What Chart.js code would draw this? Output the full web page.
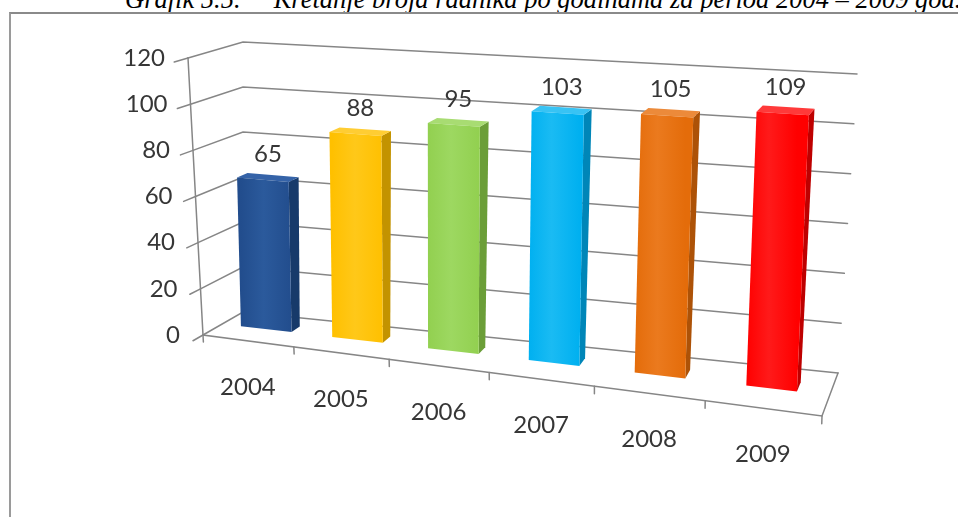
<!DOCTYPE html>
<html><head><meta charset="utf-8">
<script src="https://cdn.jsdelivr.net/npm/chart.js@4.4.1/dist/chart.umd.min.js"></script>
<style>
html,body{margin:0;padding:0;background:#fff;overflow:hidden;width:958px;height:517px;}
#title{position:absolute;left:125px;top:-16px;font:italic 26.5px "Liberation Serif","DejaVu Serif",serif;white-space:nowrap;color:#000;}
#frame{position:absolute;left:9px;top:12px;width:960px;height:520px;border-left:2px solid #9a9a9a;border-top:2px solid #8a8a8a;}
#wrap{position:absolute;left:0;top:0;width:958px;height:517px;}
</style></head><body>
<div id="title">Grafik 5.5.&nbsp;&nbsp;&nbsp;&nbsp; Kretanje broja radnika po godinama za period 2004 – 2009 god.</div>
<div id="frame"></div>
<div id="wrap"><canvas id="c" width="958" height="517"></canvas></div>
<script>
const categories = ['2004','2005','2006','2007','2008','2009'];
const values = [65, 88, 95, 103, 105, 109];
const yTicks = [0, 20, 40, 60, 80, 100, 120];
const frontColors = ['#224D8D','#FFC000','#92D050','#00B0F0','#E46C0A','#FF0000'];
const lightColors = ['#2B5A9C','#FFC819','#9DD861','#1ABBF3','#EB7A1E','#FF1A1A'];
const sideColors  = ['#173A6A','#C39300','#6B9E38','#0086B8','#AD5207','#BE0000'];
const topColors   = ['#3563A8','#FFCD33','#A8DC72','#38C3F4','#EC8A3A','#FF3A3A'];

// screen placement of the 3D plot box (layout only)
const view = {
  FBL:[203,335], FBR:[822,416], FTL:[188,58], FTR:[832,104],
  BBL:[243,312], BBR:[838,373], BTL:[243,42], BTR:[857,74],
  persp:0.86, d0:0.48, d1:0.7
};
function lerp(a,b,t){return [a[0]+(b[0]-a[0])*t, a[1]+(b[1]-a[1])*t];}
function warp(u){const c=view.persp; return c*u/(1+(c-1)*u);}
function P(s,v,d){
  const fb=lerp(view.FBL,view.FBR,s), ft=lerp(view.FTL,view.FTR,s);
  const bb=lerp(view.BBL,view.BBR,s), bt=lerp(view.BTL,view.BTR,s);
  return lerp(lerp(fb,ft,v), lerp(bb,bt,v), d);
}
function poly(ctx, pts, fill){
  ctx.beginPath(); ctx.moveTo(pts[0][0],pts[0][1]);
  for(let i=1;i<pts.length;i++) ctx.lineTo(pts[i][0],pts[i][1]);
  ctx.closePath(); ctx.fillStyle=fill; ctx.fill();
}
function line(ctx, pts){
  ctx.beginPath(); ctx.moveTo(pts[0][0],pts[0][1]);
  for(let i=1;i<pts.length;i++) ctx.lineTo(pts[i][0],pts[i][1]);
  ctx.stroke();
}
const FONT = '24px Lato, "Open Sans", sans-serif';
const TXT = '#363636';

const scene3d = {
  id:'scene3d',
  afterDatasetsDraw(chart){
    const ctx=chart.ctx, a=chart.chartArea, xs=chart.scales.x, ys=chart.scales.y;
    const U = px => (px - a.left)/(a.right - a.left);
    const V = py => (a.bottom - py)/(a.bottom - a.top);
    ctx.save();
    ctx.lineWidth=1.5; ctx.strokeStyle='#868686'; ctx.lineCap='round';
    ctx.font=FONT; ctx.fillStyle=TXT; ctx.textAlign='right'; ctx.textBaseline='middle';
    yTicks.forEach(t=>{
      const v=V(ys.getPixelForValue(t));
      line(ctx,[P(0,v,0),P(0,v,1),P(1,v,1)]);
      line(ctx,[P(0,v,0),P(0,v,-0.25)]);
      const p=P(0,v,0);
      ctx.fillText(String(t), p[0]-23, p[1]);
    });
    line(ctx,[P(0,1,0),P(0,0,0),P(1,0,0),P(1,0,1)]);
    for(let i=0;i<=categories.length;i++){
      const s=warp(U(xs.getPixelForValue(i-0.5)));
      line(ctx,[P(s,0,0),P(s,-0.025,0)]);
    }
    ctx.textAlign='center'; ctx.fillStyle=TXT;
    categories.forEach((c,i)=>{
      const s=warp(U(xs.getPixelForValue(i)));
      const p=P(s,0,0);
      ctx.fillText(c, p[0], p[1]+46);
    });
    const meta=chart.getDatasetMeta(0);
    meta.data.forEach((el,i)=>{
      const sc=warp(U(el.x));
      const hw=(el.width/(a.right-a.left))/2;
      const sL=sc-hw, sR=sc+hw, v=V(el.y), d0=view.d0, d1=view.d1;
      poly(ctx,[P(sR,0,d0),P(sR,0,d1),P(sR,v,d1),P(sR,v,d0)], sideColors[i]);
      poly(ctx,[P(sL,v,d0),P(sR,v,d0),P(sR,v,d1),P(sL,v,d1)], topColors[i]);
      const f=[P(sL,0,d0),P(sR,0,d0),P(sR,v,d0),P(sL,v,d0)];
      const g=ctx.createLinearGradient(f[0][0],0,f[1][0],0);
      g.addColorStop(0,frontColors[i]); g.addColorStop(0.45,lightColors[i]); g.addColorStop(1,frontColors[i]);
      poly(ctx,f,g);
      const lp=P(sc,v,(d0+d1)/2);
      ctx.fillStyle=TXT; ctx.textAlign='center'; ctx.textBaseline='middle';
      ctx.fillText(String(values[i]), lp[0], lp[1]-23);
    });
    ctx.restore();
  }
};

new Chart(document.getElementById('c'), {
  type:'bar',
  data:{labels:categories, datasets:[{data:values, backgroundColor:'rgba(0,0,0,0)', borderWidth:0,
        categoryPercentage:1.0, barPercentage:0.5}]},
  options:{
    responsive:false, animation:false, events:[],
    layout:{padding:0},
    plugins:{legend:{display:false}, tooltip:{enabled:false}, title:{display:false}},
    scales:{
      x:{display:false, offset:true},
      y:{display:false, min:0, max:120, ticks:{stepSize:20}}
    }
  },
  plugins:[scene3d]
});
</script>
</body></html>
